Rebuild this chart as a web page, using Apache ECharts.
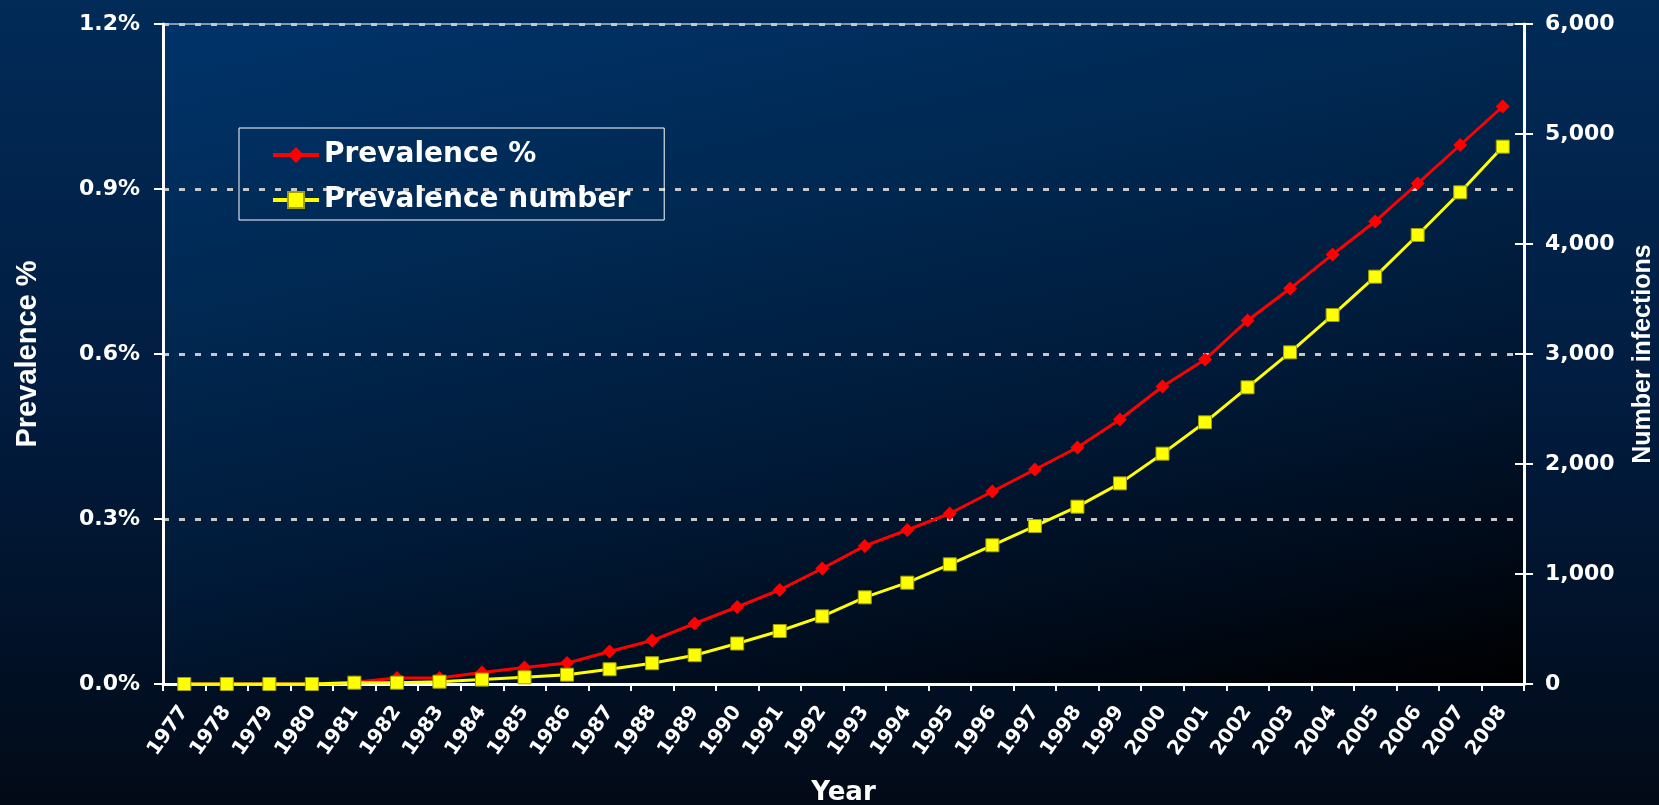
<!DOCTYPE html>
<html lang="en">
<head>
<meta charset="UTF-8">
<title>Prevalence</title>
<style>html,body{margin:0;padding:0;background:#011a3a;}</style>
</head>
<body>
<div id="main" style="width:1659px;height:805px;"></div>
<script src="https://cdn.jsdelivr.net/npm/echarts@6/dist/echarts.min.js"></script>
<script type="text/javascript">
    // x categories
    var years = ['1977','1978','1979','1980','1981','1982','1983','1984','1985','1986',
                 '1987','1988','1989','1990','1991','1992','1993','1994','1995','1996',
                 '1997','1998','1999','2000','2001','2002','2003','2004','2005','2006',
                 '2007','2008'];
    // left axis: prevalence in %
    var prevalencePct = [0, 0, 0, 0, 0.003, 0.011, 0.011, 0.021, 0.03, 0.038,
                         0.059, 0.079, 0.11, 0.14, 0.171, 0.21, 0.251, 0.28, 0.31, 0.35,
                         0.39, 0.43, 0.481, 0.541, 0.59, 0.661, 0.719, 0.781, 0.841, 0.91,
                         0.98, 1.05];
    // right axis: number of infections
    var prevalenceNumber = [0, 0, 0, 0, 12, 12, 21, 40, 61, 85,
                            134, 189, 262, 368, 482, 615, 788, 921, 1088, 1261,
                            1436, 1612, 1824, 2094, 2379, 2697, 3015, 3354, 3703, 4082,
                            4470, 4885];
    // tick labels
    var pctTicks = [0, 0.3, 0.6, 0.9, 1.2];
    var numberTicks = [0, 1000, 2000, 3000, 4000, 5000, 6000];

    var white = '#ffffff';
    var tickFont = {color: white, fontFamily: 'DejaVu Sans', fontWeight: 'bold', fontSize: 22};

    function withComma(v) {
        return String(v).replace(/\B(?=(\d{3})+(?!\d))/g, ',');
    }

    var myChart = echarts.init(document.getElementById('main'));
    myChart.setOption({
        animation: false,
        backgroundColor: {
            type: 'linear', x: 0, y: 0, x2: 0, y2: 1,
            colorStops: [
                {offset: 0, color: '#012b58'},
                {offset: 0.5, color: '#011c3f'},
                {offset: 1, color: '#020a17'}
            ]
        },
        grid: {
            left: 163, right: 135, top: 24, bottom: 121,
            outerBoundsMode: 'none',
            show: true,
            borderColor: white,
            borderWidth: 1,
            // plot area: blue in the top left corner, black in the bottom right
            backgroundColor: {
                type: 'linear', global: true, x: 163, y: 24, x2: 351, y2: 928,
                colorStops: [
                    {offset: 0, color: '#00336a'},
                    {offset: 0.3, color: '#002953'},
                    {offset: 0.6, color: '#001a38'},
                    {offset: 0.85, color: '#000a18'},
                    {offset: 1, color: '#000000'}
                ]
            }
        },
        legend: {
            orient: 'vertical',
            left: 239, top: 128,
            padding: [11, 34, 4, 32],
            borderColor: white,
            borderWidth: 1,
            itemWidth: 46,
            itemHeight: 20,
            itemGap: 13,
            lineStyle: {width: 4},
            textStyle: {color: white, fontFamily: 'DejaVu Sans', fontWeight: 'bold', fontSize: 28, lineHeight: 32},
            data: ['Prevalence %', 'Prevalence number']
        },
        xAxis: {
            type: 'category',
            data: years,
            boundaryGap: true,
            name: 'Year',
            nameLocation: 'middle',
            nameGap: 96,
            nameTextStyle: {color: white, fontFamily: 'DejaVu Sans', fontWeight: 'bold', fontSize: 26},
            axisLine: {lineStyle: {color: white, width: 3}},
            axisTick: {show: true, length: 7, lineStyle: {color: white, width: 2}},
            axisLabel: {
                interval: 0, rotate: 55, margin: 24,
                color: white, fontFamily: 'DejaVu Sans', fontWeight: 'bold', fontSize: 20
            },
            splitLine: {show: false}
        },
        yAxis: [
            {
                type: 'value',
                position: 'left',
                min: pctTicks[0],
                max: pctTicks[pctTicks.length - 1],
                interval: pctTicks[1] - pctTicks[0],
                name: 'Prevalence %',
                nameLocation: 'middle',
                nameRotate: 90,
                nameGap: 121,
                nameTextStyle: {color: white, fontFamily: 'Liberation Sans', fontWeight: 'bold', fontSize: 29},
                axisLine: {show: true, lineStyle: {color: white, width: 3}},
                axisTick: {show: true, length: 9, lineStyle: {color: white, width: 2}},
                axisLabel: Object.assign({margin: 23, formatter: function (v) { return v.toFixed(1) + '%'; }}, tickFont),
                splitLine: {show: true, lineStyle: {color: '#c8c8c8', width: 3, type: [6, 10]}}
            },
            {
                type: 'value',
                position: 'right',
                min: numberTicks[0],
                max: numberTicks[numberTicks.length - 1],
                interval: numberTicks[1] - numberTicks[0],
                name: 'Number infections',
                nameLocation: 'middle',
                nameRotate: 90,
                nameGap: 107,
                nameTextStyle: {color: white, fontFamily: 'Liberation Sans', fontWeight: 'bold', fontSize: 25},
                axisLine: {show: true, lineStyle: {color: white, width: 3}},
                axisTick: {show: true, length: 9, lineStyle: {color: white, width: 2}},
                axisLabel: Object.assign({margin: 21, formatter: withComma}, tickFont),
                splitLine: {show: false}
            },
            {
                // inner half of the crossing ticks on the right axis
                type: 'value',
                position: 'right',
                min: numberTicks[0],
                max: numberTicks[numberTicks.length - 1],
                interval: numberTicks[1] - numberTicks[0],
                axisLine: {show: false},
                axisTick: {show: true, inside: true, length: 9, lineStyle: {color: white, width: 2}},
                axisLabel: {show: false},
                splitLine: {show: false}
            }
        ],
        series: [
            {
                name: 'Prevalence %',
                type: 'line',
                yAxisIndex: 0,
                data: prevalencePct,
                symbol: 'diamond',
                symbolSize: 14,
                lineStyle: {color: '#ff0000', width: 3},
                itemStyle: {color: '#ff0000'}
            },
            {
                name: 'Prevalence number',
                type: 'line',
                yAxisIndex: 1,
                data: prevalenceNumber,
                symbol: 'rect',
                symbolSize: 13,
                lineStyle: {color: '#ffff00', width: 3},
                itemStyle: {color: '#ffff00', borderColor: '#a0a000', borderWidth: 1}
            }
        ]
    });
</script>
</body>
</html>
